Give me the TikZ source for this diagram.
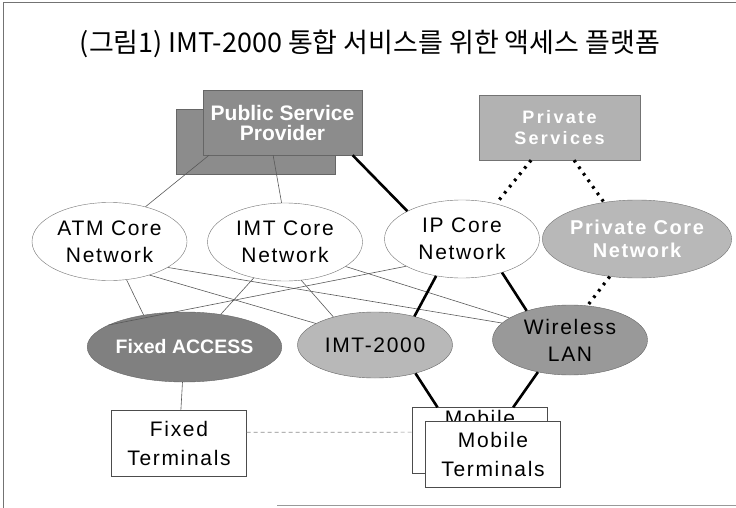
\documentclass[tikz,border=0pt]{standalone}
\usepackage{fontspec}
\setmainfont{Liberation Sans}
\newfontfamily\krfont{Noto Sans CJK KR}
\newfontfamily\netfont[LetterSpace=8]{Liberation Sans}
\newfontfamily\widefont[LetterSpace=13]{Liberation Sans}
\usetikzlibrary{shapes.geometric}
\tikzstyle{pubbox} = [rectangle, draw=black!60, fill=black!45, minimum width=159pt,
minimum height=65pt, inner sep=0pt, align=center, text=white, font=\bfseries\fontsize{21}{20}\selectfont]
\tikzstyle{privbox} = [rectangle, draw=black!55, fill=black!30, minimum width=161pt,
minimum height=65pt, inner sep=0pt, align=center, text=white, font=\widefont\bfseries\fontsize{18}{21}\selectfont]
\tikzstyle{core} = [ellipse, draw=black!55, fill=white, minimum width=155pt,
minimum height=78pt, inner sep=0pt, align=center, font=\netfont\fontsize{21}{27}\selectfont]
\tikzstyle{access} = [ellipse, draw=black!60, minimum width=155pt, minimum height=70pt,
inner sep=0pt, align=center, font=\netfont\fontsize{21}{27}\selectfont]
\tikzstyle{term} = [rectangle, draw=black!70, fill=white, minimum width=135pt,
minimum height=66pt, inner sep=0pt, align=center, font=\netfont\fontsize{21}{29}\selectfont]
\tikzstyle{link} = [draw=black!65, line width=0.6pt]
\tikzstyle{boldlink} = [draw=black, line width=2.6pt]
\tikzstyle{dotlink} = [draw=black, line width=3.2pt, dash pattern=on 2.6pt off 5.4pt]
\tikzstyle{dashlink} = [draw=black!45, line width=0.6pt, dash pattern=on 4pt off 3pt]

\begin{document}
\begin{tikzpicture}[x=1pt, y=-1pt]
\useasboundingbox (0,0) rectangle (736,508);
% frame
\draw[black!55, line width=1pt] (3,508) -- (3,3) -- (736,3);
\draw[black!40, line width=1pt] (277,505) -- (736,505);

\node (title) at (370,44) {\krfont\fontsize{27}{32}\selectfont (그림1) IMT-2000 통합 서비스를 위한 액세스 플랫폼};

% providers
\node (pubback)[pubbox] at (255.5,142) {};
\node (pub)[pubbox] at (282.5,122.5) {Public Service\\Provider};
\node (priv)[privbox] at (559.5,127.5) {Private\\Services};

% core networks
\node (atm)[core] at (109.5,241.5) {ATM Core\\Network};
\node (imtcore)[core] at (285,242) {IMT Core\\Network};
\node (ipcore)[core] at (462,239) {IP Core\\Network};
\node (privcore)[core, fill=black!28, text=white, font=\netfont\bfseries\fontsize{20}{23}\selectfont] at (637,239) {Private Core\\Network};

% access networks
\node (fixacc)[access, fill=black!50, text=white, font=\bfseries\fontsize{19.5}{24}\selectfont] at (184.5,347) {Fixed ACCESS};
\node (imt2000)[access, fill=black!28, minimum height=66pt] at (375,345) {IMT-2000};
\node (wlan)[access, fill=black!40] at (570,340) {Wireless\\LAN};

% terminals
\node (fixterm)[term] at (179,443) {Fixed\\Terminals};
\node (mobback)[term, text depth=17pt] at (480,440.5) {Mobile\\Terminals};
\node (mobile)[term] at (493,454.5) {Mobile\\Terminals};

\draw [link](pub.204) -- (atm.44);
\draw [link](pub.254) -- (imtcore.95);
\draw [boldlink](pub.335) -- (ipcore.153);
\draw [dotlink](priv.229) -- (ipcore.46);
\draw [dotlink](priv.294) -- (privcore.132);
\draw [dotlink](privcore.234) -- (wlan.63);
\draw [link](atm.294) -- (fixacc.142);
\draw [link](atm.320) -- (imt2000.160);
\draw [link](atm.336) -- (wlan.166);
\draw [link](imtcore.229) -- (fixacc.42);
\draw [link](imtcore.293) -- (imt2000.146);
\draw [link](imtcore.338) -- (wlan.160);
\draw [link](ipcore.206) -- (fixacc.164);
\draw [boldlink](ipcore.235) -- (imt2000.36);
\draw [boldlink](ipcore.320) -- (wlan.146);
\draw [link](fixacc) -- (fixterm);
\draw [boldlink](imt2000.325) -- (mobback.142);
\draw [boldlink](wlan.225) -- (mobback.45);
\draw [dashlink](fixterm.9) -- (mobback.173);
\end{tikzpicture}
\end{document}
